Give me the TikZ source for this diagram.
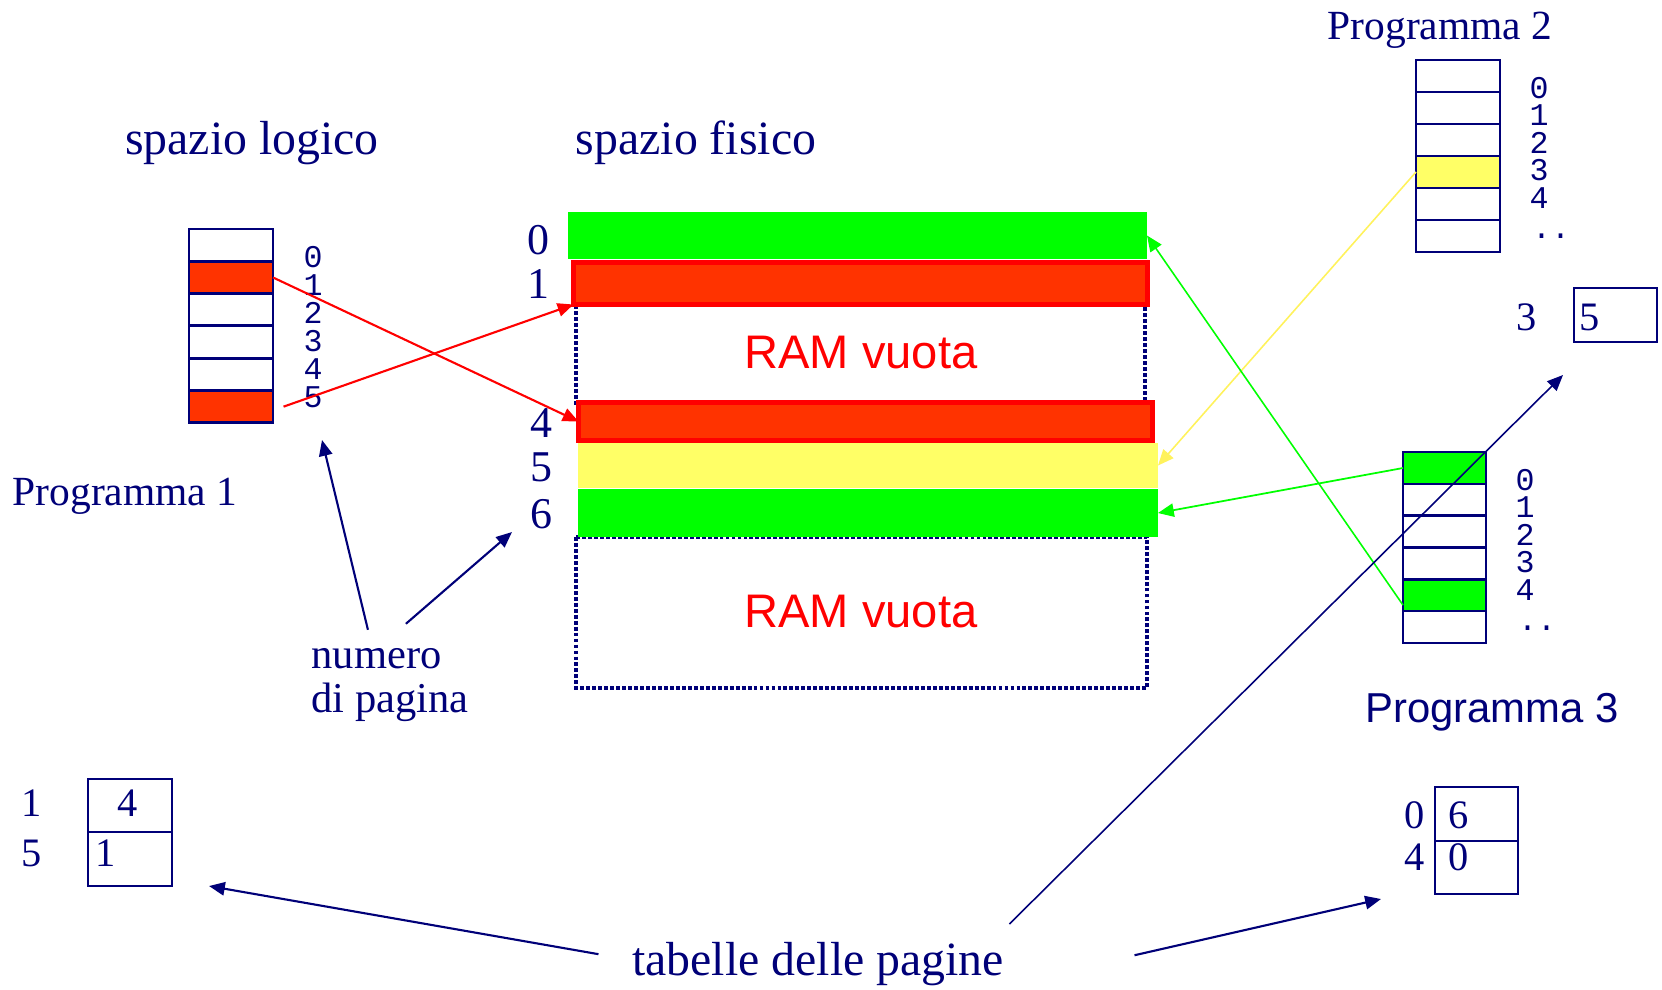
\documentclass[tikz,border=0pt]{standalone}
\usepackage{fontspec}
\setmainfont{Liberation Serif}
\setsansfont{Liberation Sans}
\setmonofont{Liberation Mono}
\usetikzlibrary{arrows.meta}

\definecolor{navy}{RGB}{0,0,120}
\definecolor{ramred}{RGB}{255,51,0}
\definecolor{ramgreen}{RGB}{0,255,0}
\definecolor{ramyellow}{RGB}{255,255,102}

\tikzset{
  cell/.style={draw=navy, line width=0.75pt, minimum width=0.84cm, minimum height=0.32cm, inner sep=0pt, outer sep=0pt},
  bar/.style={inner sep=0pt, outer sep=0pt},
  redbar/.style={bar, draw=red, line width=1.4pt, fill=ramred},
  tabcell/.style={draw=navy, line width=0.55pt, minimum width=0.84cm, inner sep=0pt, outer sep=0pt},
  title/.style={text=navy, inner sep=0pt, font=\fontsize{13.6}{16}\selectfont},
  prog/.style={text=navy, inner sep=0pt, font=\fontsize{11.8}{14}\selectfont},
  ramnum/.style={text=navy, inner sep=0pt, font=\fontsize{12.5}{15}\selectfont},
  tabnum/.style={text=navy, inner sep=0pt, font=\fontsize{11.5}{14}\selectfont},
  pagnum/.style={text=navy, inner sep=0pt, font=\ttfamily\fontsize{9}{9}\selectfont},
  vuota/.style={text=red, inner sep=0pt, font=\sffamily\fontsize{13.4}{16}\selectfont},
  empty ram/.style={navy, line width=1pt, dash pattern=on 1.1pt off 0.6pt}
}

\begin{document}
\begin{tikzpicture}[x=1cm, y=-1cm, >={Triangle[length=4.5pt,width=3.8pt]}]
        \useasboundingbox (0,0) rectangle (16.62,9.89);

        % spazio logico, programma 1
        \node[title] (logico) at (2.52,1.43) {spazio logico};
        \foreach \i/\c in {0/white,1/ramred,2/white,3/white,4/white,5/ramred}
            \node[cell, fill=\c] (pa\i) at (2.31,2.4515+0.323*\i) {};
        \foreach \i in {0,...,5}
            \node[pagnum] (na\i) at (3.13,2.57+0.28*\i) {\i};
        \node[prog] (prog1) at (1.25,4.96) {Programma 1};

        % spazio fisico
        \node[title] (fisico) at (6.96,1.43) {spazio fisico};
        \draw[empty ram] (5.76,3.05) rectangle (11.45,4.03);
        \draw[empty ram] (5.76,5.37) rectangle (11.47,6.88);
        \node[bar, fill=ramgreen, minimum width=5.79cm, minimum height=0.47cm] (ram0) at (8.575,2.355) {};
        \node[redbar, minimum width=5.74cm, minimum height=0.42cm] (ram1) at (8.605,2.835) {};
        \node[redbar, minimum width=5.74cm, minimum height=0.38cm] (ram4) at (8.655,4.215) {};
        \node[bar, fill=ramyellow, minimum width=5.80cm, minimum height=0.45cm] (ram5) at (8.68,4.655) {};
        \node[bar, fill=ramgreen, minimum width=5.80cm, minimum height=0.48cm] (ram6) at (8.68,5.13) {};
        \node[vuota] (vuota1) at (8.61,3.53) {RAM vuota};
        \node[vuota] (vuota2) at (8.61,6.12) {RAM vuota};
        \node[ramnum] (r0) at (5.38,2.40) {0};
        \node[ramnum] (r1) at (5.38,2.84) {1};
        \node[ramnum] (r4) at (5.41,4.23) {4};
        \node[ramnum] (r5) at (5.41,4.67) {5};
        \node[ramnum] (r6) at (5.41,5.14) {6};

        % programma 2
        \node[prog] (prog2) at (14.40,0.30) {Programma 2};
        \foreach \i/\c in {0/white,1/white,2/white,3/ramyellow,4/white,5/white}
            \node[cell, fill=\c] (pb\i) at (14.58,0.76+0.32*\i) {};
        \foreach \i in {0,...,4}
            \node[pagnum] (nb\i) at (15.39,0.88+0.275*\i) {\i};
        \node[pagnum] (nbd) at (15.51,2.36) {..};
        \node[tabnum] (kb3) at (15.27,3.17) {3};
        \node[tabcell, minimum width=0.83cm, minimum height=0.54cm] (tb3) at (16.155,3.15) {};
        \node[tabnum] (vb3) at (15.90,3.17) {5};

        % programma 3
        \foreach \i/\c in {0/ramgreen,1/white,2/white,3/white,4/ramgreen,5/white}
            \node[cell, fill=\c, minimum width=0.83cm, minimum height=0.318cm] (pc\i) at (14.445,4.68+0.318*\i) {};
        \foreach \i in {0,...,4}
            \node[pagnum] (nc\i) at (15.25,4.80+0.275*\i) {\i};
        \node[pagnum] (ncd) at (15.37,6.28) {..};
        \node[prog, font=\sffamily\fontsize{11.9}{14}\selectfont] (prog3) at (14.92,7.12) {Programma 3};

        % tabelle
        \node[tabcell, minimum height=0.53cm] (ta1) at (1.30,8.055) {};
        \node[tabcell, minimum height=0.54cm] (ta5) at (1.30,8.59) {};
        \node[tabnum] (ka1) at (0.32,8.03) {1};
        \node[tabnum] (ka5) at (0.32,8.53) {5};
        \node[tabnum] (va1) at (1.28,8.03) {4};
        \node[tabnum] (va5) at (1.06,8.53) {1};

        \node[tabcell, minimum width=0.83cm, minimum height=0.54cm] (tc0) at (14.765,8.14) {};
        \node[tabcell, minimum width=0.83cm, minimum height=0.53cm] (tc4) at (14.765,8.675) {};
        \node[tabnum] (kc0) at (14.15,8.15) {0};
        \node[tabnum] (kc4) at (14.15,8.57) {4};
        \node[tabnum] (vc0) at (14.59,8.15) {6};
        \node[tabnum] (vc4) at (14.59,8.57) {0};

        % mapping
        \draw[arrows=->, red, line width=0.6pt] (pa1.east) -- (ram4.west);
        \draw[arrows=->, red, line width=0.6pt] ([xshift=3pt]pa5.east) -- (ram1.south west);
        \draw[arrows=->, ramyellow!90!orange, line width=0.45pt] (pb3.west) -- (ram5.east);
        \draw[arrows=->, ramgreen, line width=0.5pt] (pc0.west) -- (ram6.east);
        \draw[arrows=->, ramgreen, line width=0.45pt] ([yshift=-2.8pt]pc4.west) -- (ram0.east);

        % etichette
        \node[prog, font=\fontsize{12.1}{12.4}\selectfont, align=left, anchor=base west] (num) at (3.11,7.12) {numero\\di pagina};
        \coordinate (tipd) at (3.22,4.40);
        \coordinate (tipe) at (5.12,5.32);
        \draw[arrows=->, navy, line width=0.6pt] ([xshift=16.2pt,yshift=23.4pt]num.base west) -- (tipd);
        \draw[arrows=->, navy, line width=0.6pt] ([xshift=27pt,yshift=25.1pt]num.base west) -- (tipe);

        \node[title] (tab) at (8.18,9.64) {tabelle delle pagine};
        \coordinate (tipa) at (2.09,8.86);
        \coordinate (tipb) at (15.63,3.75);
        \coordinate (tipc) at (13.81,8.99);
        \draw[arrows=->, navy, line width=0.6pt] ([xshift=-9.4pt,yshift=2.8pt]tab.west) -- (tipa);
        \draw[arrows=->, navy, line width=0.45pt] ([xshift=1.4pt,yshift=5pt]tab.north east) -- (tipb);
        \draw[arrows=->, navy, line width=0.6pt] ([xshift=37pt,yshift=2.5pt]tab.east) -- (tipc);
    \end{tikzpicture}
\end{document}
